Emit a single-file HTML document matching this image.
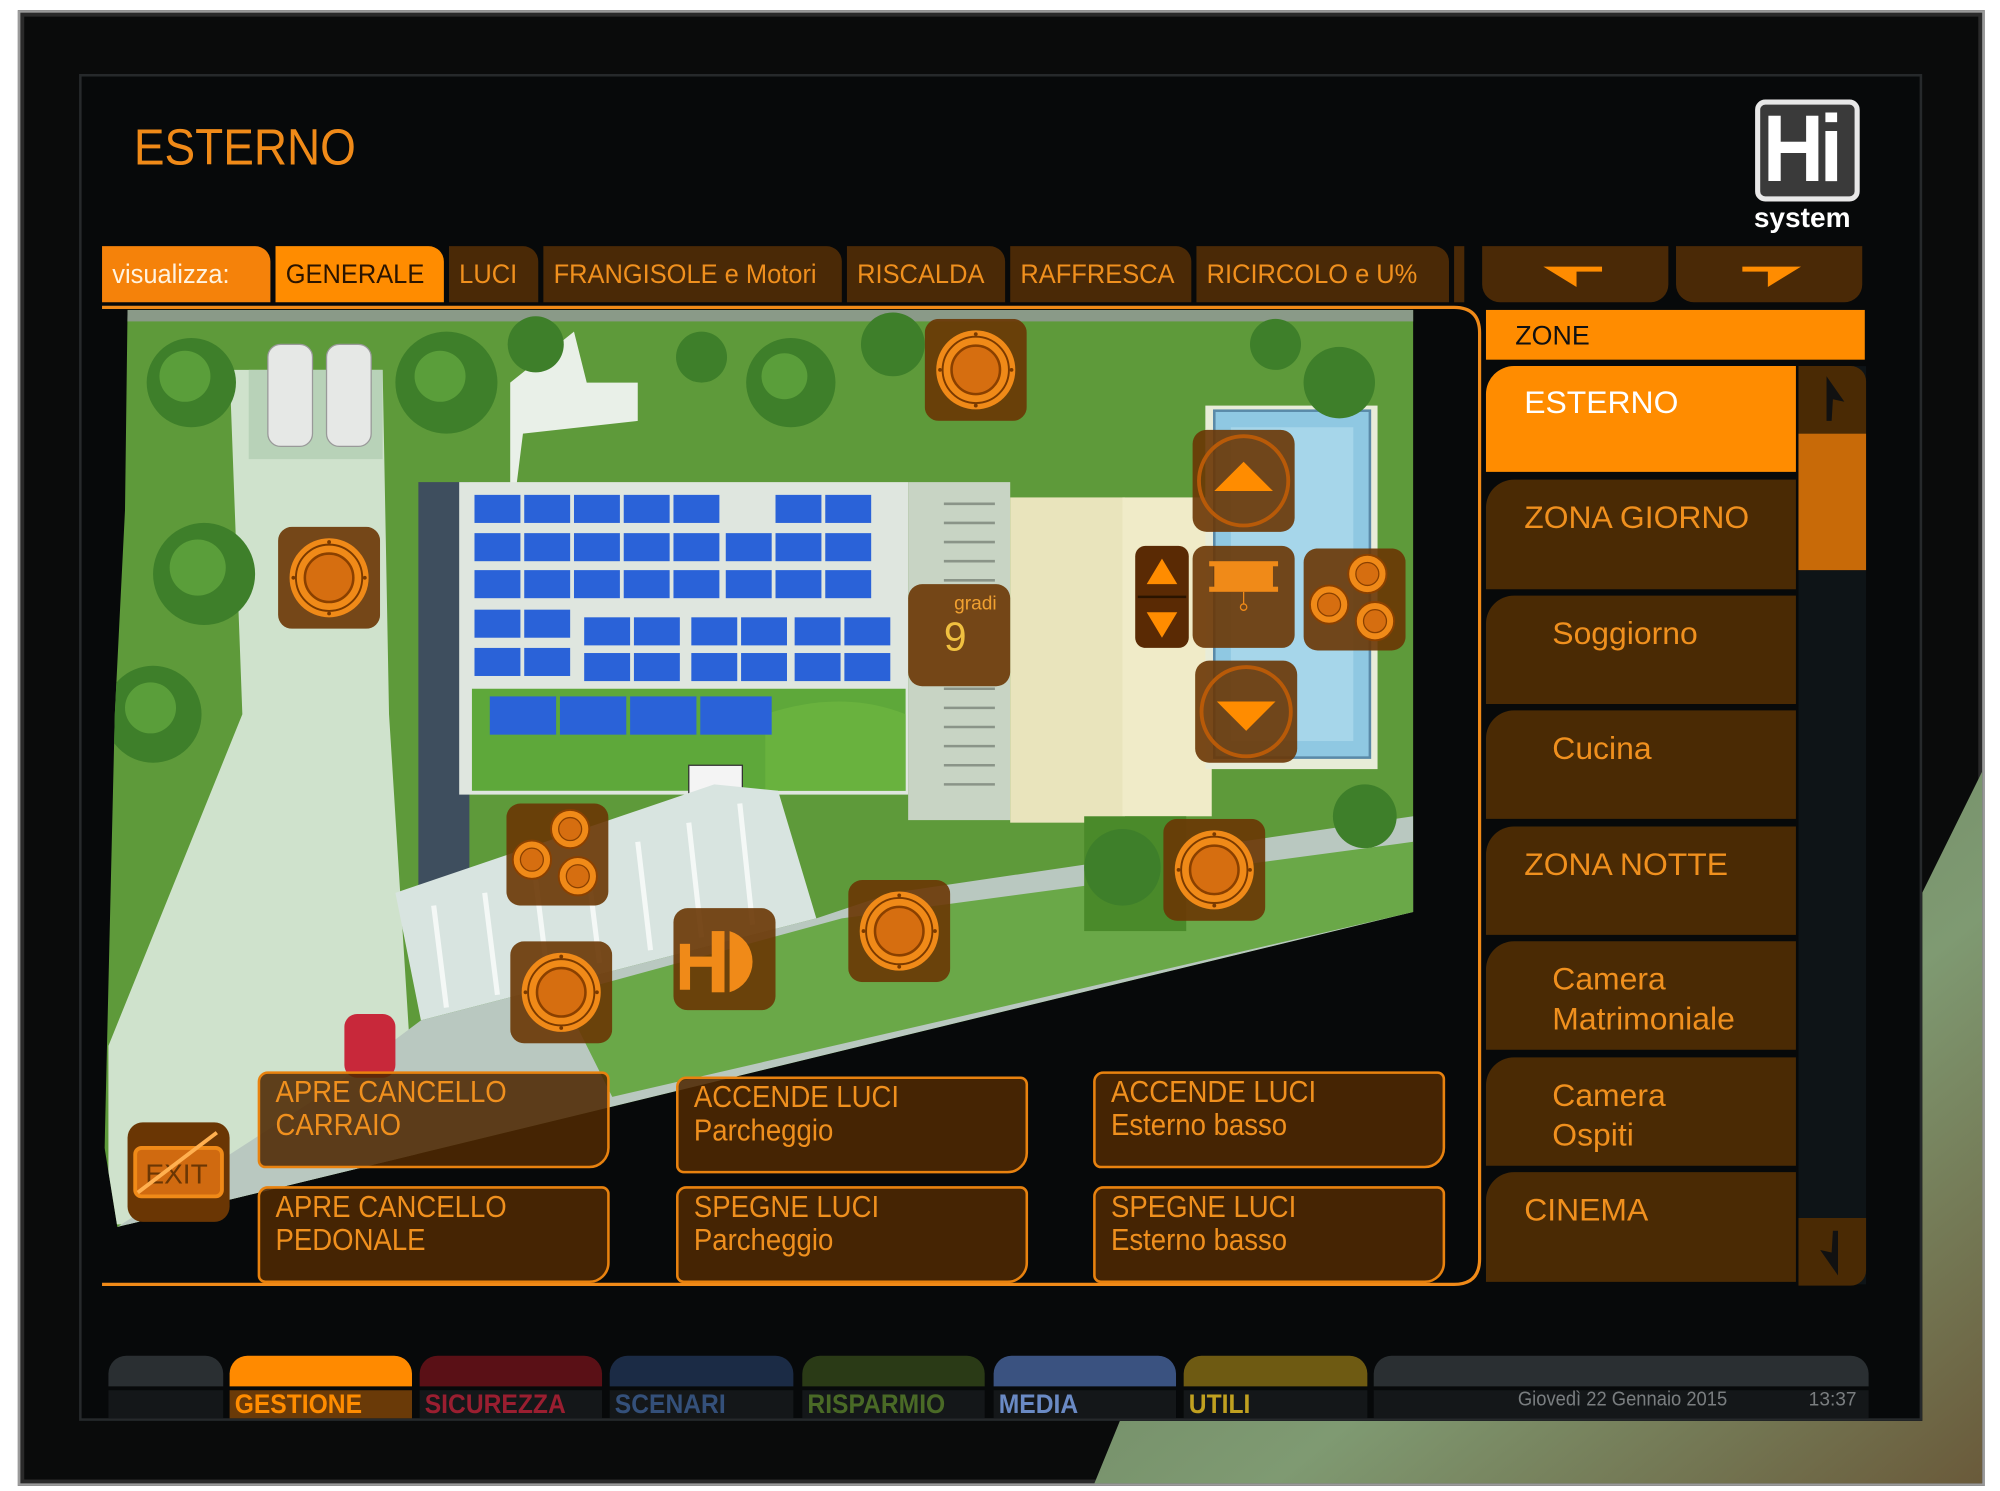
<!DOCTYPE html>
<html><head><meta charset="utf-8">
<style>
html,body{margin:0;padding:0;background:#fff;width:2000px;height:1491px;overflow:hidden}
.s{position:absolute;left:0;top:0;width:1568px;height:1169px;transform:scale(1.27551,1.27545);transform-origin:0 0;font-family:"Liberation Sans",sans-serif}
.a{position:absolute}
.t{position:absolute;white-space:nowrap;transform-origin:0 0}
.tab{position:absolute;top:193px;height:44px;background:#4a2906;border-radius:0 12px 0 0}
.tab span{position:absolute;left:8px;top:11px;font-size:21px;color:#f0901e;white-space:nowrap;transform:scaleX(.95);transform-origin:0 0}
.zr{position:absolute;left:1165px;width:243px;background:#4a2a04;border-radius:22px 0 0 0}
.zr span{position:absolute;font-size:25px;color:#f0901e;white-space:nowrap;line-height:31px}
.btn{position:absolute;width:276px;height:76px;background:rgba(78,40,2,.88);border:2px solid #e8820f;border-radius:8px 6px 16px 6px;box-sizing:border-box}
.btn span{position:absolute;left:12px;top:2px;font-size:24px;line-height:26px;color:#f0901e;white-space:nowrap;transform:scaleX(.9);transform-origin:0 0}
.nv{position:absolute;top:1063px;height:49px}
.nv .tp{position:absolute;left:0;right:0;top:0;height:24px;border-radius:14px 14px 0 0}
.nv .bt{position:absolute;left:0;right:0;top:27px;height:22px;background:#141719}
.nv span{position:absolute;left:4px;top:27px;font-size:21px;font-weight:bold;white-space:nowrap;transform:scaleX(.92);transform-origin:0 0}
</style></head><body>
<div class="s">
<div class="a" style="left:14px;top:8px;width:1542px;height:1157px;background:#0a0b0b;border:2px solid #9a9a9a;box-sizing:border-box;box-shadow:inset 0 0 0 3px #2a2a2a"></div>
<svg class="a" style="left:0;top:0" width="1568" height="1169">
<defs><linearGradient id="rg" x1="0" y1="0" x2="1" y2="1"><stop offset="0" stop-color="#5f7a58"/><stop offset=".6" stop-color="#7f9a72"/><stop offset="1" stop-color="#6a5a3a"/></linearGradient></defs>
<polygon points="1507,700 1554,605 1554,1163 858,1163 878,1114 1507,1114" fill="url(#rg)"/>
</svg>
<div class="a" style="left:62px;top:58px;width:1445px;height:1056px;background:#07090a;border:2px solid #26292b;box-sizing:border-box"></div>
<div class="t" style="left:105px;top:94px;font-size:40px;color:#f08a18;transform:scaleX(.9)">ESTERNO</div>
<div class="a" style="left:1376px;top:78px;width:82px;height:80px;background:#3a3a3a;border:4px solid #e8e8e8;border-radius:8px;box-sizing:border-box"></div>
<div class="t" style="left:1382px;top:74px;font-size:74px;font-weight:bold;color:#fff;letter-spacing:-4px;transform:scaleX(.9)">Hi</div>
<div class="t" style="left:1375px;top:158px;font-size:22px;font-weight:bold;color:#fff">system</div>
<div class="tab" style="left:80px;width:132px;background:#f5820a"><span style="color:#fff3e0">visualizza:</span></div>
<div class="tab" style="left:216px;width:132px;background:#ff8c00"><span style="color:#2a1400">GENERALE</span></div>
<div class="tab" style="left:352px;width:70px"><span>LUCI</span></div>
<div class="tab" style="left:426px;width:234px"><span>FRANGISOLE e Motori</span></div>
<div class="tab" style="left:664px;width:124px"><span>RISCALDA</span></div>
<div class="tab" style="left:792px;width:142px"><span>RAFFRESCA</span></div>
<div class="tab" style="left:938px;width:198px"><span>RICIRCOLO e U%</span></div>
<div class="tab" style="left:1140px;width:8px;border-radius:0"></div>
<div class="a" style="left:1162px;top:193px;width:146px;height:44px;background:#4a2906;border-radius:0 0 14px 14px"></div>
<div class="a" style="left:1314px;top:193px;width:146px;height:44px;background:#4a2906;border-radius:0 0 14px 14px"></div>
<svg class="a" style="left:0;top:0" width="1568" height="1169">
<polygon points="1210,209 1256,209 1256,213 1236,213 1236,225" fill="#ff8c00"/>
<polygon points="1412,209 1366,209 1366,213 1386,213 1386,225" fill="#ff8c00"/>
</svg>
<svg class="a" style="left:0;top:0" width="1568" height="1169">
<defs>
<clipPath id="mc"><polygon points="100,243 1108,243 1108,715 92,962 82,900 90,560 98,400"/></clipPath>
<symbol id="ci" viewBox="0 0 80 80"><rect x="0" y="0" width="80" height="80" rx="11" fill="#6a3604" fill-opacity=".9"/><circle cx="40" cy="40" r="31" fill="#f08a18"/><circle cx="40" cy="40" r="26" fill="none" stroke="#7a3a00" stroke-width="1.5"/><circle cx="40" cy="40" r="19" fill="#d66e10" stroke="#8a4000" stroke-width="2"/><circle cx="40" cy="12" r="1.5" fill="#7a3a00"/><circle cx="40" cy="68" r="1.5" fill="#7a3a00"/><circle cx="12" cy="40" r="1.5" fill="#7a3a00"/><circle cx="68" cy="40" r="1.5" fill="#7a3a00"/></symbol>
<symbol id="c3" viewBox="0 0 80 80"><rect x="0" y="0" width="80" height="80" rx="11" fill="#6a3604" fill-opacity=".9"/><g fill="#f08a18" stroke="#8a4000" stroke-width="1.5"><circle cx="50" cy="20" r="15"/><circle cx="20" cy="44" r="15"/><circle cx="56" cy="57" r="15"/></g><g fill="#d66e10" stroke="#8a4000"><circle cx="50" cy="20" r="9"/><circle cx="20" cy="44" r="9"/><circle cx="56" cy="57" r="9"/></g></symbol>
</defs>
<g clip-path="url(#mc)">
<rect x="80" y="240" width="1030" height="730" fill="#5e9a3a"/>
<rect x="80" y="240" width="1030" height="12" fill="#8a9a88"/>
<polygon points="180,290 300,290 305,560 330,960 85,960 85,820 190,560" fill="#cfe2cc"/>
<polygon points="195,290 300,290 300,360 195,360" fill="#b8d2b8"/>
<polygon points="400,300 450,260 460,300 500,300 500,330 410,340 405,380 400,380" fill="#e9f0e8"/>
<rect x="328" y="378" width="40" height="390" fill="#3e4e5e"/>
<rect x="360" y="378" width="352" height="245" fill="#dfe6df"/>
<rect x="370" y="540" width="340" height="80" fill="#5ea83a"/>
<path d="M600,560 Q660,540 710,560 V620 H600 Z" fill="#69b23e"/>
<rect x="712" y="378" width="80" height="265" fill="#c8d4c4"/>
<g stroke="#8a9488" stroke-width="2"><line x1="740" y1="395" x2="780" y2="395"/><line x1="740" y1="410" x2="780" y2="410"/><line x1="740" y1="425" x2="780" y2="425"/><line x1="740" y1="440" x2="780" y2="440"/><line x1="740" y1="455" x2="780" y2="455"/><line x1="740" y1="540" x2="780" y2="540"/><line x1="740" y1="555" x2="780" y2="555"/><line x1="740" y1="570" x2="780" y2="570"/><line x1="740" y1="585" x2="780" y2="585"/><line x1="740" y1="600" x2="780" y2="600"/><line x1="740" y1="615" x2="780" y2="615"/></g>
<rect x="792" y="390" width="90" height="255" fill="#e9e4bc"/>
<rect x="880" y="390" width="70" height="250" fill="#f0ebc8"/>
<rect x="945" y="318" width="135" height="285" fill="#e8ecd8"/>
<rect x="952" y="322" width="122" height="272" fill="#8fc8e2" stroke="#5a8aa8" stroke-width="2"/>
<rect x="965" y="335" width="96" height="246" fill="#a6d6ea"/>
<g fill="#2a62d8">
<rect x="372" y="388" width="36" height="22"/><rect x="411" y="388" width="36" height="22"/><rect x="450" y="388" width="36" height="22"/><rect x="489" y="388" width="36" height="22"/><rect x="528" y="388" width="36" height="22"/><rect x="608" y="388" width="36" height="22"/><rect x="647" y="388" width="36" height="22"/>
<rect x="372" y="418" width="36" height="22"/><rect x="411" y="418" width="36" height="22"/><rect x="450" y="418" width="36" height="22"/><rect x="489" y="418" width="36" height="22"/><rect x="528" y="418" width="36" height="22"/><rect x="569" y="418" width="36" height="22"/><rect x="608" y="418" width="36" height="22"/><rect x="647" y="418" width="36" height="22"/>
<rect x="372" y="447" width="36" height="22"/><rect x="411" y="447" width="36" height="22"/><rect x="450" y="447" width="36" height="22"/><rect x="489" y="447" width="36" height="22"/><rect x="528" y="447" width="36" height="22"/><rect x="569" y="447" width="36" height="22"/><rect x="608" y="447" width="36" height="22"/><rect x="647" y="447" width="36" height="22"/>
<rect x="372" y="478" width="36" height="22"/><rect x="411" y="478" width="36" height="22"/><rect x="458" y="484" width="36" height="22"/><rect x="497" y="484" width="36" height="22"/><rect x="542" y="484" width="36" height="22"/><rect x="581" y="484" width="36" height="22"/><rect x="623" y="484" width="36" height="22"/><rect x="662" y="484" width="36" height="22"/>
<rect x="372" y="508" width="36" height="22"/><rect x="411" y="508" width="36" height="22"/><rect x="458" y="512" width="36" height="22"/><rect x="497" y="512" width="36" height="22"/><rect x="542" y="512" width="36" height="22"/><rect x="581" y="512" width="36" height="22"/><rect x="623" y="512" width="36" height="22"/><rect x="662" y="512" width="36" height="22"/>
<rect x="384" y="546" width="52" height="30"/><rect x="439" y="546" width="52" height="30"/><rect x="494" y="546" width="52" height="30"/><rect x="549" y="546" width="56" height="30"/>
</g>
<rect x="540" y="600" width="42" height="26" fill="#f4f4f4" stroke="#333"/>
<polygon points="310,700 560,615 610,620 640,720 330,800" fill="#d8e4e0"/>
<g stroke="#f4f8f6" stroke-width="4"><line x1="340" y1="710" x2="350" y2="790"/><line x1="380" y1="700" x2="390" y2="780"/><line x1="420" y1="690" x2="430" y2="770"/><line x1="460" y1="675" x2="470" y2="755"/><line x1="500" y1="660" x2="510" y2="745"/><line x1="540" y1="645" x2="550" y2="735"/><line x1="580" y1="630" x2="590" y2="725"/></g>
<polygon points="330,800 640,720 700,700 1108,640 1108,715 92,962 250,860" fill="#b9c8c0"/>
<polygon points="440,780 660,720 1108,660 1108,715 480,860" fill="#6aa848"/>
<rect x="850" y="640" width="80" height="90" fill="#4a8a2a"/>
<g fill="#3e7f2a">
<circle cx="150" cy="300" r="35"/><circle cx="160" cy="450" r="40"/><circle cx="120" cy="560" r="38"/><circle cx="350" cy="300" r="40"/><circle cx="620" cy="300" r="35"/><circle cx="700" cy="270" r="25"/><circle cx="1050" cy="300" r="28"/><circle cx="1070" cy="640" r="25"/><circle cx="880" cy="680" r="30"/><circle cx="420" cy="270" r="22"/><circle cx="550" cy="280" r="20"/><circle cx="1000" cy="270" r="20"/>
</g>
<g fill="#5a9e3a"><circle cx="145" cy="295" r="20"/><circle cx="155" cy="445" r="22"/><circle cx="118" cy="555" r="20"/><circle cx="345" cy="295" r="20"/><circle cx="615" cy="295" r="18"/></g>
<rect x="210" y="270" width="35" height="80" rx="10" fill="#e6e8e6" stroke="#999"/>
<rect x="256" y="270" width="35" height="80" rx="10" fill="#e6e8e6" stroke="#999"/>
<rect x="270" y="795" width="40" height="50" rx="10" fill="#c8283a"/>
</g>
<use href="#ci" x="725" y="250" width="80" height="80"/>
<use href="#ci" x="218" y="413" width="80" height="80"/>
<use href="#ci" x="912" y="642" width="80" height="80"/>
<use href="#ci" x="665" y="690" width="80" height="80"/>
<use href="#ci" x="400" y="738" width="80" height="80"/>
<use href="#c3" x="397" y="630" width="80" height="80"/>
<use href="#c3" x="1022" y="430" width="80" height="80"/>
<rect x="935" y="337" width="80" height="80" rx="11" fill="#6a3604" fill-opacity=".9"/>
<circle cx="975" cy="377" r="35" fill="none" stroke="#b85a08" stroke-width="3"/><polygon points="952,385 998,385 975,362" fill="#ff8c00"/>
<rect x="937" y="518" width="80" height="80" rx="11" fill="#6a3604" fill-opacity=".9"/>
<circle cx="977" cy="558" r="35" fill="none" stroke="#b85a08" stroke-width="3"/><polygon points="954,550 1000,550 977,573" fill="#ff8c00"/>
<rect x="890" y="428" width="42" height="80" rx="8" fill="#5a2a04"/>
<polygon points="899,458 923,458 911,438" fill="#ff8c00"/><polygon points="899,480 923,480 911,500" fill="#ff8c00"/>
<line x1="892" y1="468" x2="930" y2="468" stroke="#2a1400" stroke-width="2"/>
<rect x="935" y="428" width="80" height="80" rx="10" fill="#6a3604" fill-opacity=".9"/>
<rect x="952" y="442" width="46" height="20" fill="#f08a18"/><rect x="948" y="440" width="54" height="4" fill="#f08a18"/><rect x="948" y="460" width="54" height="4" fill="#f08a18"/>
<line x1="975" y1="464" x2="975" y2="474" stroke="#f08a18"/><circle cx="975" cy="476" r="2.5" fill="none" stroke="#f08a18"/>
<rect x="712" y="458" width="80" height="80" rx="11" fill="#6a3604" fill-opacity=".9"/>
<text x="748" y="478" font-family="Liberation Sans" font-size="15" fill="#f0a030">gradi</text>
<text x="740" y="510" font-family="Liberation Sans" font-size="32" fill="#f0c040">9</text>
<rect x="528" y="712" width="80" height="80" rx="11" fill="#6a3604" fill-opacity=".9"/>
<path d="M572,730 A25,25 0 0 1 572,778 Z" fill="#f08a18"/><rect x="558" y="730" width="10" height="48" fill="#f08a18"/><rect x="536" y="750" width="24" height="8" fill="#f08a18"/><rect x="533" y="740" width="8" height="36" fill="#f08a18"/>
<rect x="100" y="880" width="80" height="78" rx="12" fill="#6a3604"/>
<rect x="106" y="900" width="68" height="38" rx="5" fill="#d06a10" stroke="#f08a18" stroke-width="3"/>
<text x="114" y="928" font-family="Liberation Sans" font-size="22" fill="#6a3604">EXIT</text>
<line x1="108" y1="935" x2="170" y2="888" stroke="#ffb050" stroke-width="3"/>
<path d="M80,241 H1140 Q1160,241 1160,261 V987 Q1160,1007 1140,1007 H80" fill="none" stroke="#f08a18" stroke-width="2.5"/>
</svg>
<div class="btn" style="left:202px;top:840px"><span>APRE CANCELLO<br>CARRAIO</span></div>
<div class="btn" style="left:530px;top:844px"><span>ACCENDE LUCI<br>Parcheggio</span></div>
<div class="btn" style="left:857px;top:840px"><span>ACCENDE LUCI<br>Esterno basso</span></div>
<div class="btn" style="left:202px;top:930px"><span>APRE CANCELLO<br>PEDONALE</span></div>
<div class="btn" style="left:530px;top:930px"><span>SPEGNE LUCI<br>Parcheggio</span></div>
<div class="btn" style="left:857px;top:930px"><span>SPEGNE LUCI<br>Esterno basso</span></div>
<div class="a" style="left:1165px;top:243px;width:297px;height:39px;background:#ff8c00"></div>
<div class="t" style="left:1188px;top:252px;font-size:21px;color:#111">ZONE</div>
<div class="zr" style="top:287px;height:83px;background:#ff8c00"><span style="left:30px;top:14px;color:#fff">ESTERNO</span></div>
<div class="zr" style="top:376px;height:86px"><span style="left:30px;top:15px">ZONA GIORNO</span></div>
<div class="zr" style="top:467px;height:85px"><span style="left:52px;top:15px">Soggiorno</span></div>
<div class="zr" style="top:557px;height:85px"><span style="left:52px;top:15px">Cucina</span></div>
<div class="zr" style="top:648px;height:85px"><span style="left:30px;top:15px">ZONA NOTTE</span></div>
<div class="zr" style="top:738px;height:85px"><span style="left:52px;top:15px">Camera<br>Matrimoniale</span></div>
<div class="zr" style="top:829px;height:85px"><span style="left:52px;top:15px">Camera<br>Ospiti</span></div>
<div class="zr" style="top:919px;height:86px"><span style="left:30px;top:15px">CINEMA</span></div>
<div class="a" style="left:1410px;top:287px;width:53px;height:720px;background:#0e1417"></div>
<div class="a" style="left:1410px;top:287px;width:53px;height:53px;background:#4a2a04;border-radius:0 12px 0 0"></div>
<div class="a" style="left:1410px;top:340px;width:53px;height:107px;background:#c86a08"></div>
<div class="a" style="left:1410px;top:955px;width:53px;height:53px;background:#4a2a04;border-radius:0 0 12px 0"></div>
<svg class="a" style="left:0;top:0" width="1568" height="1169">
<polygon points="1432,295 1446,315 1437,313 1436,330 1432,330" fill="#111"/>
<polygon points="1441,1000 1427,980 1436,982 1437,965 1441,965" fill="#111"/>
</svg>
<div class="nv" style="left:85px;width:90px"><div class="tp" style="background:#2a2f32"></div><div class="bt"></div></div>
<div class="nv" style="left:180px;width:143px"><div class="tp" style="background:#ff8a00"></div><div class="bt" style="background:#6a3a08"></div><span style="color:#ff8c00">GESTIONE</span></div>
<div class="nv" style="left:329px;width:143px"><div class="tp" style="background:#5a1016"></div><div class="bt"></div><span style="color:#9a1e30">SICUREZZA</span></div>
<div class="nv" style="left:478px;width:144px"><div class="tp" style="background:#1b2b45"></div><div class="bt"></div><span style="color:#34507a">SCENARI</span></div>
<div class="nv" style="left:629px;width:143px"><div class="tp" style="background:#2a3a16"></div><div class="bt"></div><span style="color:#4a6a26">RISPARMIO</span></div>
<div class="nv" style="left:779px;width:143px"><div class="tp" style="background:#3a5280"></div><div class="bt"></div><span style="color:#6a8ac4">MEDIA</span></div>
<div class="nv" style="left:928px;width:144px"><div class="tp" style="background:#6e5a12"></div><div class="bt"></div><span style="color:#c0a020">UTILI</span></div>
<div class="nv" style="left:1077px;width:388px"><div class="tp" style="background:#2a2f32"></div><div class="bt"></div></div>
<div class="t" style="left:1190px;top:1089px;font-size:16px;color:#7a7e80;transform:scaleX(.9)">Giovedì 22 Gennaio 2015</div>
<div class="t" style="left:1418px;top:1089px;font-size:15px;color:#7a7e80">13:37</div>
</div>
</body></html>
